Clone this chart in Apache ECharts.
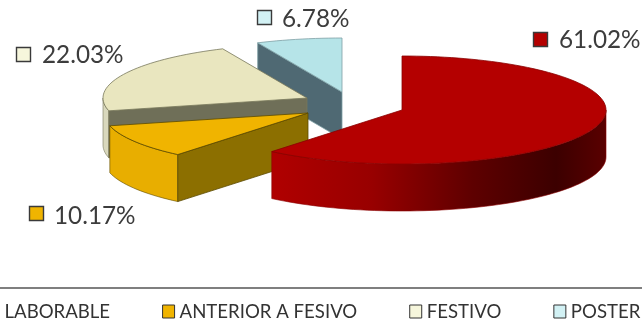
<!DOCTYPE html>
<html>
<head>
<meta charset="utf-8">
<style>html,body{margin:0;padding:0;background:#fff}#c{width:642px;height:324px}</style>
<script src="https://cdn.jsdelivr.net/npm/echarts@6/dist/echarts.min.js"></script>
</head>
<body>
<div id="c"></div>
<script>
// Data
const categories = ['LABORABLE', 'ANTERIOR A FESIVO', 'FESTIVO', 'POSTER'];
const shares = [61.02, 10.17, 22.03, 6.78];

// Layout and styles
const RX = 204, RY = 54, DEPTH = 47;
const centers = [[402, 110], [308, 113], [307, 98], [342, 92]];
const labelPos = [[533, 32, 559, 40], [29, 206, 54, 216], [16, 47, 42, 55], [257, 10, 282, 19]];
const topColors = ['#b40000', '#f0b400', '#e9e6bf', '#b6e4e8'];
const cutColors = ['#700000', '#8c6f00', '#6f6f58', '#4f6973'];
const markerColors = ['#b40000', '#f0b400', '#f6f6dc', '#d2f1f4'];
const strokeColors = ['#8a0000', '#5c4a00', '#77775a', '#7fa0a4'];
const sideFills = [
  { type: 'linear', x: 0, y: 0, x2: 1, y2: 0, colorStops: [
    { offset: 0, color: '#b00000' }, { offset: 0.3, color: '#980000' },
    { offset: 0.6, color: '#5e0000' }, { offset: 0.85, color: '#3c0000' }, { offset: 1, color: '#5a0000' }] },
  '#e8ae00', '#d9d8bd', '#8fb8bc'
];
const total = shares.reduce((a, b) => a + b, 0);

function rimPoint(i, deg, dz) {
  const a = deg * Math.PI / 180;
  return [centers[i][0] + RX * Math.sin(a), centers[i][1] - RY * Math.cos(a) + dz];
}
function arc(i, from, to, dz) {
  const pts = [];
  const n = Math.max(2, Math.ceil(Math.abs(to - from) / 2));
  for (let k = 0; k <= n; k++) pts.push(rimPoint(i, from + (to - from) * k / n, dz));
  return pts;
}
function renderSlice(i, value, api) {
  const before = shares.slice(0, i).reduce((a, b) => a + b, 0);
  const start = before / total * 360;
  const end = start + value / total * 360;
  const c = centers[i];
  const kids = [];
  const stroke = strokeColors[i];
  const sine = d => Math.sin(d * Math.PI / 180);
  const face = d => {
    const r = rimPoint(i, d, 0);
    kids.push({ type: 'polygon',
      shape: { points: [c, r, [r[0], r[1] + DEPTH], [c[0], c[1] + DEPTH]] },
      style: { fill: cutColors[i], stroke: stroke, lineWidth: 0.8 } });
  };
  const sFrom = Math.max(start, 90), sTo = Math.min(end, 270);
  if (sTo > sFrom) {
    const pts = arc(i, sFrom, sTo, 0).concat(arc(i, sTo, sFrom, DEPTH));
    kids.push({ type: 'polygon', shape: { points: pts },
      style: { fill: sideFills[i], stroke: stroke, lineWidth: 0.6 } });
  }
  if (sine(start) < -1e-6) face(start);
  if (sine(end) > 1e-6) face(end);
  kids.push({ type: 'polygon',
    shape: { points: [c].concat(arc(i, start, end, 0)) },
    style: { fill: topColors[i], stroke: stroke, lineWidth: 0.8 } });
  const lp = labelPos[i];
  kids.push({ type: 'rect', shape: { x: lp[0] + 0.5, y: lp[1] + 0.5, width: 14, height: 14 },
    style: { fill: markerColors[i], stroke: '#3a3a3a', lineWidth: 1.4 } });
  kids.push({ type: 'text', style: {
    text: value.toFixed(2) + '%', x: lp[2], y: lp[3],
    verticalAlign: 'middle', align: 'left',
    font: '24.3px Lato, "Open Sans", sans-serif', fill: '#3c3c3c' } });
  return { type: 'group', children: kids };
}

const drawOrder = [3, 2, 1, 0];
const chart = echarts.init(document.getElementById('c'), null, { renderer: 'canvas' });
chart.setOption({
  animation: false,
  backgroundColor: '#ffffff',
  legend: {
    data: categories,
    left: -18,
    top: 297,
    width: 900,
    orient: 'horizontal',
    itemWidth: 12,
    itemHeight: 13,
    itemGap: 52,
    icon: 'rect',
    selectedMode: false,
    itemStyle: { borderColor: '#333333', borderWidth: 1 },
    textStyle: { fontFamily: 'Lato, "Open Sans", sans-serif', fontSize: 18.6, color: '#333333' }
  },
  graphic: [{ type: 'line', shape: { x1: 0, y1: 288, x2: 642, y2: 288 },
    style: { stroke: '#555555', lineWidth: 1.5 } }],
  series: drawOrder.map(i => ({
    type: 'custom',
    name: categories[i],
    coordinateSystem: 'none',
    itemStyle: { color: markerColors[i] },
    data: [[shares[i]]],
    renderItem: (params, api) => renderSlice(i, api.value(0), api)
  }))
});
</script>
</body>
</html>
